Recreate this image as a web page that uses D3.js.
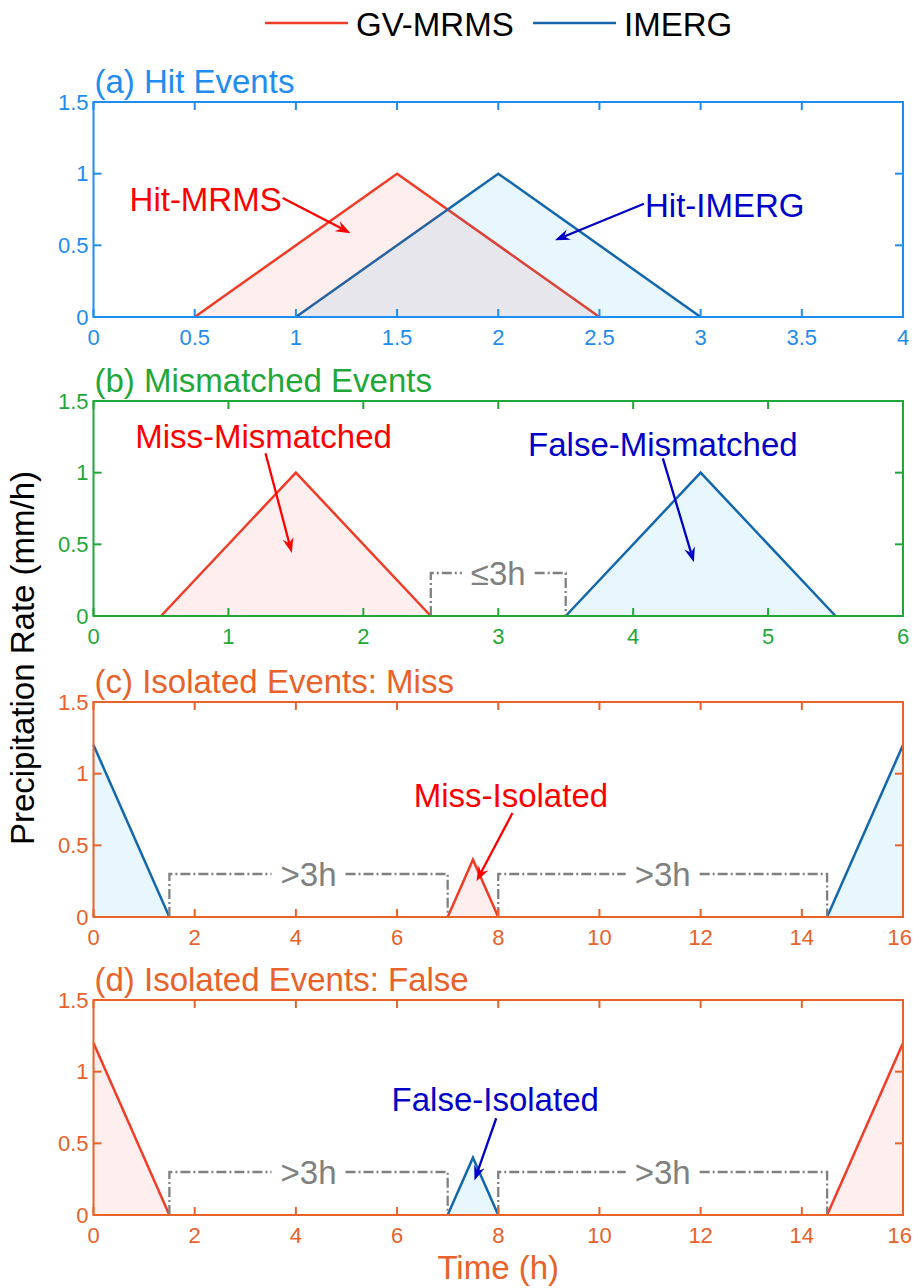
<!DOCTYPE html>
<html>
<head>
<meta charset="utf-8">
<script src="https://cdn.jsdelivr.net/npm/d3@7"></script>
<style>
  html, body { margin: 0; padding: 0; background: #ffffff; }
  svg { display: block; font-family: "Liberation Sans", Arial, sans-serif; }
</style>
</head>
<body>
<svg id="chart" width="913" height="1288"></svg>
<script>
// ---------- data ----------
const legendLabels = ["GV-MRMS", "IMERG"];
const panelTitles = ["(a) Hit Events", "(b) Mismatched Events", "(c) Isolated Events: Miss", "(d) Isolated Events: False"];
const panelXMax = [4, 6, 16, 16];
const panelXStep = [0.5, 1, 2, 2];
const yTickValues = [0, 0.5, 1, 1.5];

// (a) hit events
const hitMRMSTime = [0.5, 1.5, 2.5];
const hitMRMSRate = [0, 1, 0];
const hitIMERGTime = [1, 2, 3];
const hitIMERGRate = [0, 1, 0];

// (b) mismatched events
const misMRMSTime = [0.5, 1.5, 2.5];
const misMRMSRate = [0, 1, 0];
const misIMERGTime = [3.5, 4.5, 5.5];
const misIMERGRate = [0, 1, 0];

// (c) isolated miss: MRMS event surrounded by distant IMERG rain
const isoMissMRMSTime = [7, 7.5, 8];
const isoMissMRMSRate = [0, 0.4, 0];
const isoMissIMERGLeftTime = [0, 1.5];
const isoMissIMERGLeftRate = [1.2, 0];
const isoMissIMERGRightTime = [14.5, 16];
const isoMissIMERGRightRate = [0, 1.2];

// (d) isolated false: IMERG event surrounded by distant MRMS rain
const isoFalseIMERGTime = [7, 7.5, 8];
const isoFalseIMERGRate = [0, 0.4, 0];
const isoFalseMRMSLeftTime = [0, 1.5];
const isoFalseMRMSLeftRate = [1.2, 0];
const isoFalseMRMSRightTime = [14.5, 16];
const isoFalseMRMSRightRate = [0, 1.2];

// separation brackets (start, end) and their labels
const mismatchGaps = [[2.5, 3.5]];
const isolatedGaps = [[1.5, 7], [8, 14.5]];
const gapLevel = 0.3;
const gapLabelNear = "\u22643h";
const gapLabelFar = ">3h";

// ---------- styles ----------
const RED = "#f03c28", BLUE = "#1565aa";
const RED_FILL = "rgba(240,70,50,0.09)", BLUE_FILL = "rgba(0,160,240,0.09)";
const NOTE_RED = "#ff0000", NOTE_BLUE = "#0000c8";
const GRAY = "#808080";
const axisColors = ["#1e8cf0", "#1fa838", "#e8622a", "#e8622a"];

const zip = (t, v) => t.map((d, i) => [d, v[i]]);

const panels = [
  {
    series: [
      { pts: zip(hitMRMSTime, hitMRMSRate), color: RED, fill: RED_FILL },
      { pts: zip(hitIMERGTime, hitIMERGRate), color: BLUE, fill: BLUE_FILL }
    ],
    gaps: [], gapLabel: "",
    notes: [
      { text: "Hit-MRMS", color: NOTE_RED, anchor: "end", tx: 0.93, ty: 0.82, from: [0.935, 0.83], to: [1.27, 0.585] },
      { text: "Hit-IMERG", color: NOTE_BLUE, anchor: "start", tx: 2.725, ty: 0.775, from: [2.72, 0.79], to: [2.28, 0.535] }
    ]
  },
  {
    series: [
      { pts: zip(misMRMSTime, misMRMSRate), color: RED, fill: RED_FILL },
      { pts: zip(misIMERGTime, misIMERGRate), color: BLUE, fill: BLUE_FILL }
    ],
    gaps: mismatchGaps, gapLabel: gapLabelNear,
    notes: [
      { text: "Miss-Mismatched", color: NOTE_RED, anchor: "middle", tx: 1.26, ty: 1.255, from: [1.275, 1.135], to: [1.47, 0.44] },
      { text: "False-Mismatched", color: NOTE_BLUE, anchor: "middle", tx: 4.22, ty: 1.2, from: [4.22, 1.1], to: [4.45, 0.375] }
    ]
  },
  {
    series: [
      { pts: zip(isoMissIMERGLeftTime, isoMissIMERGLeftRate), color: BLUE, fill: BLUE_FILL },
      { pts: zip(isoMissIMERGRightTime, isoMissIMERGRightRate), color: BLUE, fill: BLUE_FILL },
      { pts: zip(isoMissMRMSTime, isoMissMRMSRate), color: RED, fill: RED_FILL }
    ],
    gaps: isolatedGaps, gapLabel: gapLabelFar,
    notes: [
      { text: "Miss-Isolated", color: NOTE_RED, anchor: "middle", tx: 8.25, ty: 0.845, from: [8.28, 0.725], to: [7.57, 0.25] }
    ]
  },
  {
    series: [
      { pts: zip(isoFalseMRMSLeftTime, isoFalseMRMSLeftRate), color: RED, fill: RED_FILL },
      { pts: zip(isoFalseMRMSRightTime, isoFalseMRMSRightRate), color: RED, fill: RED_FILL },
      { pts: zip(isoFalseIMERGTime, isoFalseIMERGRate), color: BLUE, fill: BLUE_FILL }
    ],
    gaps: isolatedGaps, gapLabel: gapLabelFar,
    notes: [
      { text: "False-Isolated", color: NOTE_BLUE, anchor: "middle", tx: 7.94, ty: 0.805, from: [7.96, 0.675], to: [7.53, 0.24] }
    ]
  }
];

// ---------- layout ----------
const svg = d3.select("#chart");
svg.append("rect").attr("width", 913).attr("height", 1288).attr("fill", "#fff");

const W = 913;
const plotLeft = 93.5, plotRight = 903;
const panelTops = [102, 401, 702, 1000];
const panelHeight = 215;
const tickLen = 8;
const bigFont = 33, tickFont = 22;

const fmt = d => String(d);

function arrowHead(g, x1, y1, x2, y2, color) {
  const ang = Math.atan2(y2 - y1, x2 - x1);
  const L = 15, Wd = 5.5, notch = 5;
  const ux = Math.cos(ang), uy = Math.sin(ang);
  const px = -uy, py = ux;
  const bx = x2 - ux * L, by = y2 - uy * L;
  const nx = x2 - ux * (L - notch), ny = y2 - uy * (L - notch);
  g.append("line")
    .attr("x1", x1).attr("y1", y1).attr("x2", nx).attr("y2", ny)
    .attr("stroke", color).attr("stroke-width", 2.3);
  g.append("path")
    .attr("d", `M${x2},${y2}L${bx + px * Wd},${by + py * Wd}L${nx},${ny}L${bx - px * Wd},${by - py * Wd}Z`)
    .attr("fill", color);
}

panels.forEach((p, i) => {
  const color = axisColors[i];
  const top = panelTops[i], bottom = top + panelHeight;
  const x = d3.scaleLinear().domain([0, panelXMax[i]]).range([plotLeft, plotRight]);
  const y = d3.scaleLinear().domain([0, 1.5]).range([bottom, top]);
  const xTicks = d3.range(0, panelXMax[i] + 1e-9, panelXStep[i]);
  const g = svg.append("g");

  // series lines (fills are laid over them with transparency)
  const line = d3.line().x(d => x(d[0])).y(d => y(d[1]));
  const area = d3.area().x(d => x(d[0])).y0(y(0)).y1(d => y(d[1]));
  p.series.forEach(s => {
    g.append("path").attr("d", line(s.pts)).attr("fill", "none")
      .attr("stroke", s.color).attr("stroke-width", 2.5).attr("stroke-linejoin", "miter");
  });
  p.series.forEach(s => {
    g.append("path").attr("d", area(s.pts)).attr("fill", s.fill).attr("stroke", "none");
  });

  // separation brackets
  p.gaps.forEach(gp => {
    const xa = x(gp[0]), xb = x(gp[1]), yl = y(gapLevel), y0 = y(0);
    const label = g.append("text")
      .attr("x", (xa + xb) / 2).attr("y", yl)
      .attr("dy", "0.35em")
      .attr("text-anchor", "middle")
      .attr("font-size", bigFont).attr("fill", GRAY)
      .text(p.gapLabel);
    const tw = label.node().getComputedTextLength();
    const pad = 9;
    const lx = (xa + xb) / 2 - tw / 2 - pad, rx = (xa + xb) / 2 + tw / 2 + pad;
    const path = `M${xa},${y0}L${xa},${yl}L${lx},${yl}M${rx},${yl}L${xb},${yl}L${xb},${y0}`;
    g.insert("path", "text").attr("d", path).attr("fill", "none")
      .attr("stroke", GRAY).attr("stroke-width", 2.3)
      .attr("stroke-dasharray", "10,3,2,3");
  });

  // axes box with inward ticks on all sides
  const ax = svg.append("g").attr("stroke", color).attr("stroke-width", 2);
  ax.append("rect").attr("x", plotLeft).attr("y", top)
    .attr("width", plotRight - plotLeft).attr("height", panelHeight).attr("fill", "none");
  xTicks.forEach(t => {
    ax.append("line").attr("x1", x(t)).attr("x2", x(t)).attr("y1", bottom).attr("y2", bottom - tickLen);
    ax.append("line").attr("x1", x(t)).attr("x2", x(t)).attr("y1", top).attr("y2", top + tickLen);
  });
  yTickValues.forEach(t => {
    ax.append("line").attr("x1", plotLeft).attr("x2", plotLeft + tickLen).attr("y1", y(t)).attr("y2", y(t));
    ax.append("line").attr("x1", plotRight).attr("x2", plotRight - tickLen).attr("y1", y(t)).attr("y2", y(t));
  });

  const lab = svg.append("g").attr("fill", color).attr("font-size", tickFont);
  xTicks.forEach(t => {
    const tx = lab.append("text").attr("x", x(t)).attr("y", bottom + 28)
      .attr("text-anchor", "middle").text(fmt(t));
    // keep the last label inside the page edge
    const w = tx.node().getComputedTextLength();
    if (x(t) + w / 2 > W - 1) tx.attr("text-anchor", "end").attr("x", W - 1);
  });
  yTickValues.forEach(t => {
    lab.append("text").attr("x", plotLeft - 5).attr("y", y(t)).attr("dy", "0.35em")
      .attr("text-anchor", "end").text(fmt(t));
  });

  // panel title
  svg.append("text").attr("x", plotLeft + 1).attr("y", top - 9)
    .attr("font-size", bigFont).attr("fill", color).text(panelTitles[i]);

  // annotations
  const ng = svg.append("g");
  p.notes.forEach(n => {
    arrowHead(ng, x(n.from[0]), y(n.from[1]), x(n.to[0]), y(n.to[1]), n.color);
    ng.append("text").attr("x", x(n.tx)).attr("y", y(n.ty)).attr("dy", "0.35em")
      .attr("text-anchor", n.anchor).attr("font-size", bigFont).attr("fill", n.color)
      .text(n.text);
  });
});

// axis labels
svg.append("text")
  .attr("transform", "translate(22,658) rotate(-90)")
  .attr("text-anchor", "middle").attr("dy", "0.35em")
  .attr("font-size", bigFont).attr("fill", "#000")
  .text("Precipitation Rate (mm/h)");
svg.append("text")
  .attr("x", (plotLeft + plotRight) / 2).attr("y", 1279)
  .attr("text-anchor", "middle")
  .attr("font-size", bigFont).attr("fill", axisColors[3])
  .text("Time (h)");

// legend
const legend = svg.append("g");
const legendColors = [RED, BLUE];
const legendLineX = [265, 533];
legendLabels.forEach((lbl, i) => {
  legend.append("line").attr("x1", legendLineX[i]).attr("x2", legendLineX[i] + 83)
    .attr("y1", 23).attr("y2", 23).attr("stroke", legendColors[i]).attr("stroke-width", 2.4);
  legend.append("text").attr("x", legendLineX[i] + 91).attr("y", 24).attr("dy", "0.35em")
    .attr("font-size", bigFont).attr("fill", "#000").text(lbl);
});
</script>
</body>
</html>
